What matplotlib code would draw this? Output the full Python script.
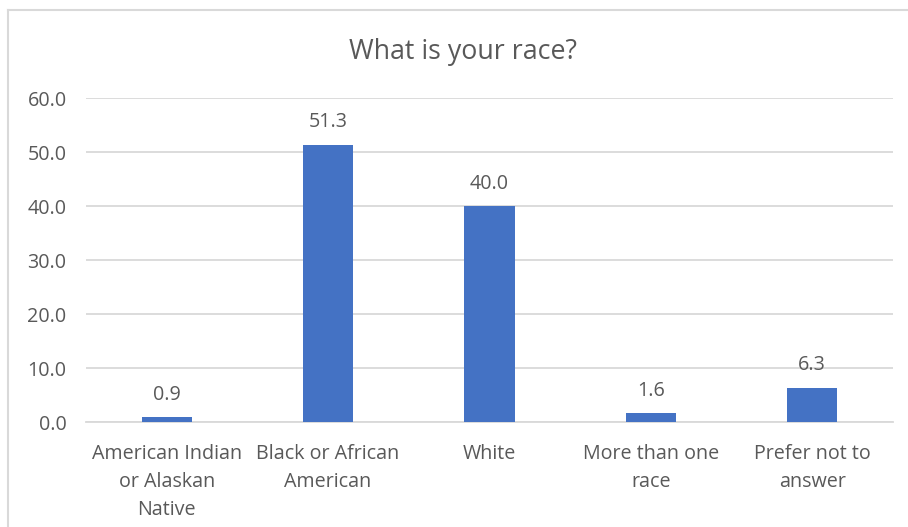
import matplotlib
matplotlib.use("Agg")
import matplotlib.pyplot as plt
from matplotlib.lines import Line2D

categories = ["American Indian\nor Alaskan\nNative", "Black or African\nAmerican", "White",
              "More than one\nrace", "Prefer not to\nanswer"]
values = [0.9, 51.3, 40.0, 1.6, 6.3]
yticks = [0, 10, 20, 30, 40, 50, 60]
title = "What is your race?"

text_color = "#595959"
grid_color = "#D9D9D9"
bar_color = "#4472C4"

plt.rcParams["font.family"] = ["Open Sans", "DejaVu Sans"]

fig = plt.figure(figsize=(9.08, 5.27), dpi=100)
ax = fig.add_axes([86 / 908, 1 - 422 / 527, (893 - 86) / 908, (422 - 98) / 527])

x = list(range(len(values)))
ax.bar(x, values, width=0.31, color=bar_color, zorder=3)
for xi, v in zip(x, values):
    ax.annotate(f"{v:.1f}", (xi, v), xytext=(0, 9), textcoords="offset points",
                ha="center", va="bottom", fontsize=14.2, color=text_color)

ax.set_xlim(-0.5, len(values) - 0.5)
ax.set_ylim(0, 60)
ax.set_yticks(yticks)
ax.set_yticklabels([f"{t:.1f}" for t in yticks])
ax.set_xticks(x)
ax.set_xticklabels(categories, linespacing=1.56)
ax.tick_params(axis="both", length=0, colors=text_color, labelsize=14.2)
ax.tick_params(axis="y", pad=14)
ax.tick_params(axis="x", pad=15.5)
ax.grid(axis="y", color=grid_color, linewidth=1.3, zorder=0)
for s in ["top", "right", "left"]:
    ax.spines[s].set_visible(False)
ax.spines["bottom"].set_color(grid_color)
ax.spines["bottom"].set_linewidth(1.3)

fig.text(463 / 908, 1 - 52 / 527, title, ha="center", va="center",
         fontsize=19.3, color=text_color)

# outer chart frame
fig.add_artist(Line2D([8 / 908, 8 / 908], [0, 1 - 10 / 527], transform=fig.transFigure,
                      color="#D9D9D9", linewidth=1.5))
fig.add_artist(Line2D([8 / 908, 1], [1 - 10 / 527, 1 - 10 / 527], transform=fig.transFigure,
                      color="#D9D9D9", linewidth=1.5))

fig.savefig("out.png", dpi=100)
